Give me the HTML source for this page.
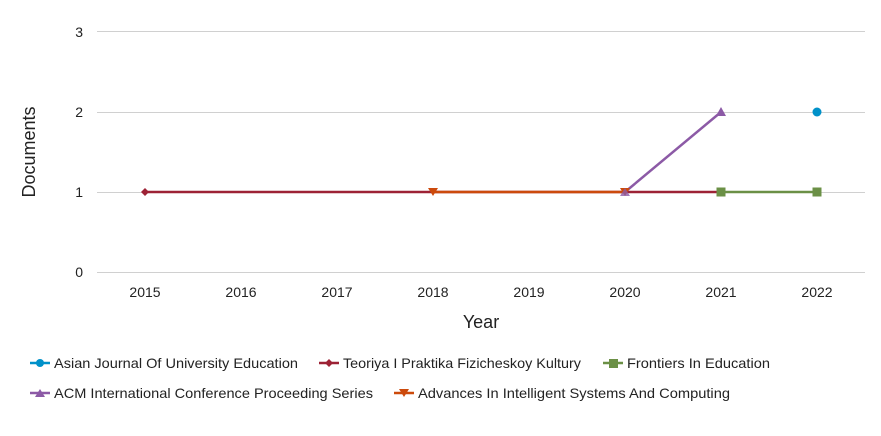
<!DOCTYPE html>
<html><head><meta charset="utf-8"><style>
body{margin:0;background:#fff}
text{font-family:"Liberation Sans",sans-serif;fill:#222}
</style></head><body>
<svg width="881" height="431" viewBox="0 0 881 431" xmlns="http://www.w3.org/2000/svg">
<g stroke="#d0d0d0" stroke-width="1">
<line x1="97" y1="31.5" x2="865" y2="31.5"/>
<line x1="97" y1="112.5" x2="865" y2="112.5"/>
<line x1="97" y1="192.5" x2="865" y2="192.5"/>
<line x1="97" y1="272.5" x2="865" y2="272.5"/>
</g>
<g font-size="14" text-anchor="end">
<text x="83" y="37">3</text><text x="83" y="117">2</text><text x="83" y="197">1</text><text x="83" y="277">0</text>
</g>
<g font-size="14" text-anchor="middle">
<text x="145" y="297">2015</text><text x="241" y="297">2016</text><text x="337" y="297">2017</text><text x="433" y="297">2018</text>
<text x="529" y="297">2019</text><text x="625" y="297">2020</text><text x="721" y="297">2021</text><text x="817" y="297">2022</text>
</g>
<text x="481" y="328" font-size="18" text-anchor="middle">Year</text>
<text transform="translate(35,152) rotate(-90)" font-size="18" text-anchor="middle">Documents</text>
<polyline points="145,192 721,192" stroke="#9d2235" stroke-width="2.5" fill="none"/>
<polyline points="433,192 625,192" stroke="#cc4a0c" stroke-width="2.5" fill="none"/>
<polyline points="721,192 817,192" stroke="#6b9046" stroke-width="2.5" fill="none"/>
<polyline points="625,192 721,112" stroke="#8c5aa6" stroke-width="2.5" fill="none"/>
<path d="M145,188 L149,192 L145,196 L141,192Z" fill="#9d2235"/>
<path d="M428,188 L438,188 L433,196Z" fill="#cc4a0c"/>
<path d="M620,188 L630,188 L625,196Z" fill="#cc4a0c"/>
<path d="M620,196 L630,196 L625,188Z" fill="#8c5aa6" opacity="0.8"/>
<path d="M716,116 L726,116 L721,107Z" fill="#8c5aa6"/>
<rect x="716.5" y="187.5" width="9" height="9" fill="#6b9046"/>
<rect x="812.5" y="187.5" width="9" height="9" fill="#6b9046"/>
<circle cx="817" cy="112" r="4.5" fill="#0091c9"/>
<g font-size="14">
<line x1="30" y1="363" x2="50" y2="363" stroke="#0091c9" stroke-width="2.5"/><circle cx="40" cy="363" r="4" fill="#0091c9"/>
<text x="54" y="368" textLength="244" lengthAdjust="spacingAndGlyphs">Asian Journal Of University Education</text>
<line x1="319" y1="363" x2="339" y2="363" stroke="#9d2235" stroke-width="2.5"/><path d="M329,359 L333,363 L329,367 L325,363Z" fill="#9d2235"/>
<text x="343" y="368" textLength="238" lengthAdjust="spacingAndGlyphs">Teoriya I Praktika Fizicheskoy Kultury</text>
<line x1="603" y1="363" x2="623" y2="363" stroke="#6b9046" stroke-width="2.5"/><rect x="609" y="359" width="9" height="9" fill="#6b9046"/>
<text x="627" y="368" textLength="143" lengthAdjust="spacingAndGlyphs">Frontiers In Education</text>
<line x1="30" y1="393" x2="50" y2="393" stroke="#8c5aa6" stroke-width="2.5"/><path d="M35,397 L45,397 L40,389Z" fill="#8c5aa6"/>
<text x="54" y="398" textLength="319" lengthAdjust="spacingAndGlyphs">ACM International Conference Proceeding Series</text>
<line x1="394" y1="393" x2="414" y2="393" stroke="#cc4a0c" stroke-width="2.5"/><path d="M399,389 L409,389 L404,397Z" fill="#cc4a0c"/>
<text x="418" y="398" textLength="312" lengthAdjust="spacingAndGlyphs">Advances In Intelligent Systems And Computing</text>
</g>
</svg>
</body></html>
